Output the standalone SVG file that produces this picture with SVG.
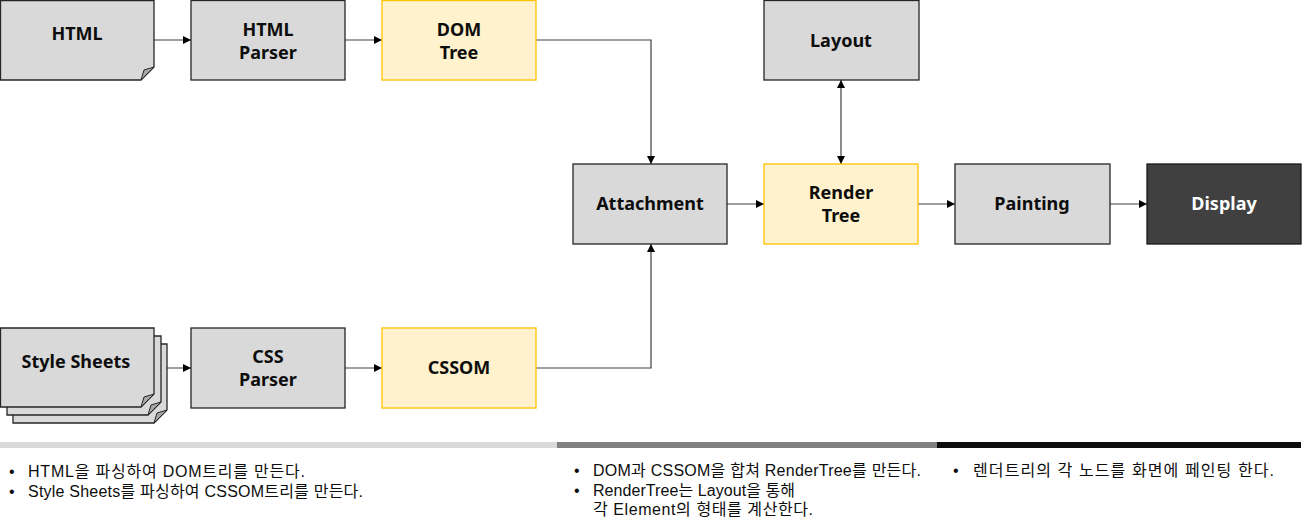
<svg xmlns="http://www.w3.org/2000/svg" width="1304" height="528" viewBox="0 0 1304 528">
<defs>
<marker id="ah" viewBox="0 0 10 10" refX="10" refY="5" markerWidth="8" markerHeight="8" markerUnits="userSpaceOnUse" orient="auto-start-reverse">
<path d="M0,0 L10,5 L0,10 Z" fill="#000"/>
</marker>
<style>
.g{fill:#d9d9d9;stroke:#262626;stroke-width:1.3}
.y{fill:#fff2cc;stroke:#ffc000;stroke-width:1.3}
.d{fill:#404040;stroke:#1a1a1a;stroke-width:1.3}
.fold{fill:#a6a6a6;stroke:#262626;stroke-width:1}
.lbl{font-family:"Noto Sans","Noto Sans CJK KR",sans-serif;font-weight:bold;font-size:18px;fill:#0d0d0d;text-anchor:middle}
.w{fill:#fff}
.c{fill:none;stroke:#404040;stroke-width:1.2}
.t{font-family:"Liberation Sans","Noto Sans CJK KR",sans-serif;font-size:16px;fill:#0d0d0d}
</style>
</defs>
<g id="connectors">
<line class="c" x1="154" y1="40" x2="191" y2="40" marker-end="url(#ah)"/>
<line class="c" x1="345" y1="40" x2="382" y2="40" marker-end="url(#ah)"/>
<polyline class="c" points="536,40 651,40 651,164" marker-end="url(#ah)"/>
<line class="c" x1="154" y1="368" x2="191" y2="368" marker-end="url(#ah)"/>
<line class="c" x1="345" y1="368" x2="382" y2="368" marker-end="url(#ah)"/>
<polyline class="c" points="536,368 651,368 651,244" marker-end="url(#ah)"/>
<line class="c" x1="727" y1="204" x2="764" y2="204" marker-end="url(#ah)"/>
<line class="c" x1="918" y1="204" x2="955" y2="204" marker-end="url(#ah)"/>
<line class="c" x1="1110" y1="204" x2="1147" y2="204" marker-end="url(#ah)"/>
<line class="c" x1="841" y1="80" x2="841" y2="164" marker-start="url(#ah)" marker-end="url(#ah)"/>
</g>
<g id="html">
<path class="g" d="M0.5,0.5 H154 V67 L141,80 H0.5 Z"/>
<path class="fold" d="M154,67 L144,70 L141,80 Z"/>
<text class="lbl" x="77" y="40">HTML</text>
</g>
<g id="html-parser">
<rect class="g" x="191" y="0.5" width="154" height="79.5"/>
<text class="lbl" x="268" y="36">HTML</text>
<text class="lbl" x="268" y="59">Parser</text>
</g>
<g id="dom-tree">
<rect class="y" x="382" y="0.5" width="154" height="79.5"/>
<text class="lbl" x="459" y="36">DOM</text>
<text class="lbl" x="459" y="59">Tree</text>
</g>
<g id="layout">
<rect class="g" x="764" y="0.5" width="155" height="79.5"/>
<text class="lbl" x="841" y="47">Layout</text>
</g>
<g id="attachment">
<rect class="g" x="573" y="164" width="154" height="80"/>
<text class="lbl" x="650" y="210">Attachment</text>
</g>
<g id="render-tree">
<rect class="y" x="764" y="164" width="154" height="80"/>
<text class="lbl" x="841" y="199">Render</text>
<text class="lbl" x="841" y="222">Tree</text>
</g>
<g id="painting">
<rect class="g" x="955" y="164" width="155" height="80"/>
<text class="lbl" x="1032" y="210">Painting</text>
</g>
<g id="display">
<rect class="d" x="1147" y="164" width="154" height="80"/>
<text class="lbl w" x="1224" y="210">Display</text>
</g>
<g id="style-sheets">
<path class="g" d="M13,344 H167 V410 L154,423 H13 Z"/>
<path class="fold" d="M167,410 L157,413 L154,423 Z"/>
<path class="g" d="M7,336 H161 V402 L148,415 H7 Z"/>
<path class="fold" d="M161,402 L151,405 L148,415 Z"/>
<path class="g" d="M0.5,328 H154 V394 L141,407 H0.5 Z"/>
<path class="fold" d="M154,394 L144,397 L141,407 Z"/>
<text class="lbl" x="76" y="368">Style Sheets</text>
</g>
<g id="css-parser">
<rect class="g" x="191" y="328" width="154" height="80"/>
<text class="lbl" x="268" y="363">CSS</text>
<text class="lbl" x="268" y="386">Parser</text>
</g>
<g id="cssom">
<rect class="y" x="382" y="328" width="154" height="80"/>
<text class="lbl" x="459" y="374">CSSOM</text>
</g>
<g id="bars">
<rect x="0" y="442" width="557" height="6" fill="#d9d9d9"/>
<rect x="557" y="442" width="380" height="6" fill="#808080"/>
<rect x="937" y="442" width="364" height="6" fill="#0d0d0d"/>
</g>
<g id="notes">
<text class="t"><tspan x="9" y="477">•</tspan><tspan x="28" y="477" textLength="277" lengthAdjust="spacing">HTML을 파싱하여 DOM트리를 만든다.</tspan><tspan x="9" y="497">•</tspan><tspan x="28" y="497" textLength="335" lengthAdjust="spacing">Style Sheets를 파싱하여 CSSOM트리를 만든다.</tspan></text>
<text class="t"><tspan x="574" y="476">•</tspan><tspan x="593" y="476" textLength="328" lengthAdjust="spacing">DOM과 CSSOM을 합쳐 RenderTree를 만든다.</tspan><tspan x="574" y="496">•</tspan><tspan x="593" y="496" textLength="202" lengthAdjust="spacing">RenderTree는 Layout을 통해</tspan><tspan x="593" y="515" textLength="220" lengthAdjust="spacing">각 Element의 형태를 계산한다.</tspan></text>
<text class="t"><tspan x="953" y="476">•</tspan><tspan x="973" y="476" textLength="301" lengthAdjust="spacing">렌더트리의 각 노드를 화면에 페인팅 한다.</tspan></text>
</g>
</svg>
